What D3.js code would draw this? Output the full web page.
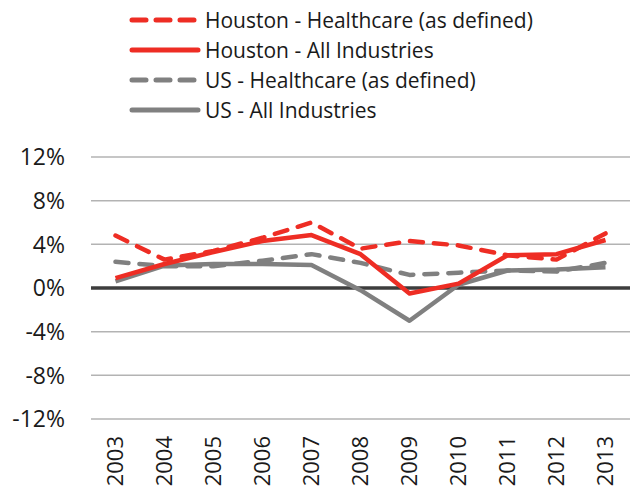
<!DOCTYPE html>
<html>
<head>
<meta charset="utf-8">
<script src="https://d3js.org/d3.v7.min.js"></script>
<style>
  body { margin: 0; background: #fff; }
  text { font-family: "Open Sans", sans-serif; fill: #1a1a1a; }
</style>
</head>
<body>
<div id="chart"></div>
<script>
var years = ["2003", "2004", "2005", "2006", "2007", "2008", "2009", "2010", "2011", "2012", "2013"];
var yTicks = [-12, -8, -4, 0, 4, 8, 12];

var houstonHealth = [4.8, 2.6, 3.4, 4.6, 6.0, 3.6, 4.3, 3.9, 3.0, 2.6, 5.0];
var houstonAll    = [0.9, 2.2, 3.3, 4.3, 4.85, 3.1, -0.5, 0.4, 3.0, 3.1, 4.4];
var usHealth      = [2.4, 2.0, 2.0, 2.5, 3.1, 2.3, 1.2, 1.4, 1.6, 1.5, 2.3];
var usAll         = [0.6, 2.05, 2.2, 2.2, 2.1, -0.2, -3.0, 0.3, 1.6, 1.7, 1.9];

var seriesNames = ["Houston - Healthcare (as defined)", "Houston - All Industries",
                   "US - Healthcare (as defined)", "US - All Industries"];

window.onload = function () {
    var w = 631, h = 490;
    var red = "#ee2d24", gray = "#808080";

    var series = [
        { name: seriesNames[0], values: houstonHealth, color: red,  dash: "13,11" },
        { name: seriesNames[1], values: houstonAll,    color: red,  dash: null },
        { name: seriesNames[2], values: usHealth,      color: gray, dash: "13,11" },
        { name: seriesNames[3], values: usAll,         color: gray, dash: null }
    ];

    var svg = d3.select("#chart").append("svg")
        .attr("width", w)
        .attr("height", h);

    var x = d3.scaleBand().domain(years).range([91, 630]);
    var y = d3.scaleLinear().domain([-12, 12]).range([419, 157]);
    var cx = d => x(d) + x.bandwidth() / 2;

    // gridlines
    svg.append("g")
        .selectAll("line")
        .data(yTicks.filter(t => t !== 0))
        .enter().append("line")
        .attr("x1", 91).attr("x2", 630)
        .attr("y1", d => y(d)).attr("y2", d => y(d))
        .attr("stroke", "#b3b3b3")
        .attr("stroke-width", 1.5);

    // y labels
    svg.append("g")
        .selectAll("text")
        .data(yTicks)
        .enter().append("text")
        .attr("x", 65)
        .attr("y", d => y(d))
        .attr("dy", "0.36em")
        .attr("text-anchor", "end")
        .style("font-size", "23px")
        .text(d => d + "%");

    // x labels
    svg.append("g")
        .selectAll("text")
        .data(years)
        .enter().append("text")
        .attr("transform", d => "translate(" + (cx(d) + 7.5) + "," + 436 + ") rotate(-90)")
        .attr("text-anchor", "end")
        .style("font-size", "22px")
        .text(d => d);

    var line = d3.line()
        .x((d, i) => cx(years[i]))
        .y(d => y(d));

    // zero line
    svg.append("line")
        .attr("x1", 91).attr("x2", 630)
        .attr("y1", y(0)).attr("y2", y(0))
        .attr("stroke", "#3d3d3d")
        .attr("stroke-width", 3.5);

    // draw order: US first, then Houston
    svg.append("g")
        .selectAll("path")
        .data(series.slice().reverse())
        .enter().append("path")
        .attr("d", d => line(d.values))
        .attr("fill", "none")
        .attr("stroke", d => d.color)
        .attr("stroke-width", 4.5)
        .attr("stroke-dasharray", d => d.dash)
        .attr("stroke-linecap", d => d.dash ? "round" : "butt")
        .attr("stroke-linejoin", "round");

    // legend
    var legend = svg.append("g")
        .selectAll("g")
        .data(series)
        .enter().append("g")
        .attr("transform", (d, i) => "translate(0," + (20 + i * 30) + ")");

    legend.append("line")
        .attr("x1", 132).attr("x2", 198)
        .attr("y1", 0).attr("y2", 0)
        .attr("stroke", d => d.color)
        .attr("stroke-width", 5)
        .attr("stroke-linecap", "round")
        .attr("stroke-dasharray", d => d.dash ? "14,10" : null);

    legend.append("text")
        .attr("x", 205)
        .attr("y", 0)
        .attr("dy", "0.36em")
        .style("font-size", "21px")
        .text(d => d.name);
};
</script>
</body>
</html>
